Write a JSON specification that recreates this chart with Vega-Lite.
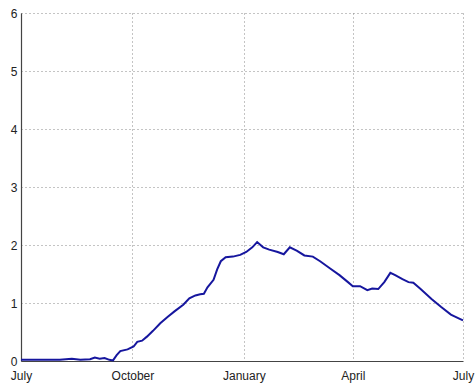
{
  "$schema": "https://vega.github.io/schema/vega-lite/v6.json",
  "autosize": "none",
  "width": 442,
  "height": 348,
  "padding": {"left": 21, "top": 13, "right": 12, "bottom": 24},
  "background": "white",
  "config": {
    "view": {"stroke": null},
    "axis": {
      "labelFont": "Liberation Sans",
      "labelFontSize": 12,
      "labelColor": "#222",
      "domainColor": "#444",
      "domainWidth": 1.2,
      "tickColor": "#555",
      "gridColor": "#888",
      "gridDash": [1, 3],
      "gridWidth": 1,
      "gridOpacity": 1
    }
  },
  "data": {
    "values": [
      {"date": "2010-07-01", "v": 0.02},
      {"date": "2010-07-17", "v": 0.02},
      {"date": "2010-08-02", "v": 0.02},
      {"date": "2010-08-12", "v": 0.04},
      {"date": "2010-08-19", "v": 0.02},
      {"date": "2010-08-27", "v": 0.03},
      {"date": "2010-08-31", "v": 0.06},
      {"date": "2010-09-04", "v": 0.04},
      {"date": "2010-09-08", "v": 0.05},
      {"date": "2010-09-12", "v": 0.02},
      {"date": "2010-09-15", "v": 0.01},
      {"date": "2010-09-18", "v": 0.1},
      {"date": "2010-09-21", "v": 0.17},
      {"date": "2010-09-27", "v": 0.2},
      {"date": "2010-10-02", "v": 0.25},
      {"date": "2010-10-05", "v": 0.33},
      {"date": "2010-10-09", "v": 0.35},
      {"date": "2010-10-13", "v": 0.42},
      {"date": "2010-10-18", "v": 0.52},
      {"date": "2010-10-24", "v": 0.65},
      {"date": "2010-10-30", "v": 0.76},
      {"date": "2010-11-05", "v": 0.86},
      {"date": "2010-11-12", "v": 0.97},
      {"date": "2010-11-17", "v": 1.08},
      {"date": "2010-11-22", "v": 1.13},
      {"date": "2010-11-26", "v": 1.15},
      {"date": "2010-11-29", "v": 1.16},
      {"date": "2010-12-02", "v": 1.27},
      {"date": "2010-12-07", "v": 1.4},
      {"date": "2010-12-10", "v": 1.58},
      {"date": "2010-12-13", "v": 1.72},
      {"date": "2010-12-17", "v": 1.79},
      {"date": "2010-12-23", "v": 1.8},
      {"date": "2010-12-29", "v": 1.83},
      {"date": "2011-01-03", "v": 1.88},
      {"date": "2011-01-08", "v": 1.96},
      {"date": "2011-01-12", "v": 2.05},
      {"date": "2011-01-17", "v": 1.96},
      {"date": "2011-01-22", "v": 1.92},
      {"date": "2011-01-29", "v": 1.88},
      {"date": "2011-02-03", "v": 1.84},
      {"date": "2011-02-08", "v": 1.96},
      {"date": "2011-02-14", "v": 1.9},
      {"date": "2011-02-20", "v": 1.82},
      {"date": "2011-02-27", "v": 1.8},
      {"date": "2011-03-05", "v": 1.72},
      {"date": "2011-03-13", "v": 1.6},
      {"date": "2011-03-21", "v": 1.48},
      {"date": "2011-03-28", "v": 1.36},
      {"date": "2011-04-01", "v": 1.29},
      {"date": "2011-04-07", "v": 1.29},
      {"date": "2011-04-13", "v": 1.22},
      {"date": "2011-04-17", "v": 1.25},
      {"date": "2011-04-22", "v": 1.24},
      {"date": "2011-04-27", "v": 1.36},
      {"date": "2011-05-02", "v": 1.52},
      {"date": "2011-05-06", "v": 1.48},
      {"date": "2011-05-12", "v": 1.41},
      {"date": "2011-05-17", "v": 1.36},
      {"date": "2011-05-21", "v": 1.35},
      {"date": "2011-05-27", "v": 1.24},
      {"date": "2011-06-05", "v": 1.07},
      {"date": "2011-06-13", "v": 0.93},
      {"date": "2011-06-21", "v": 0.8},
      {"date": "2011-06-27", "v": 0.74},
      {"date": "2011-07-01", "v": 0.7}
    ]
  },
  "mark": {"type": "line", "color": "#16169e", "strokeWidth": 2, "interpolate": "linear"},
  "encoding": {
    "x": {
      "field": "date",
      "type": "temporal",
      "scale": {"domain": [{"year": 2010, "month": 7, "date": 1}, {"year": 2011, "month": 7, "date": 1}], "nice": false},
      "axis": {
        "title": null,
        "format": "%B",
        "values": [
          {"year": 2010, "month": 7, "date": 1},
          {"year": 2010, "month": 10, "date": 1},
          {"year": 2011, "month": 1, "date": 1},
          {"year": 2011, "month": 4, "date": 1},
          {"year": 2011, "month": 7, "date": 1}
        ],
        "grid": true,
        "ticks": false,
        "labelPadding": 9,
        "labelFlush": false,
        "labelOverlap": false
      }
    },
    "y": {
      "field": "v",
      "type": "quantitative",
      "scale": {"domain": [0, 6], "nice": false},
      "axis": {
        "title": null,
        "values": [0, 1, 2, 3, 4, 5, 6],
        "grid": true,
        "ticks": false,
        "labelPadding": 4,
        "labelFlush": false
      }
    }
  }
}
